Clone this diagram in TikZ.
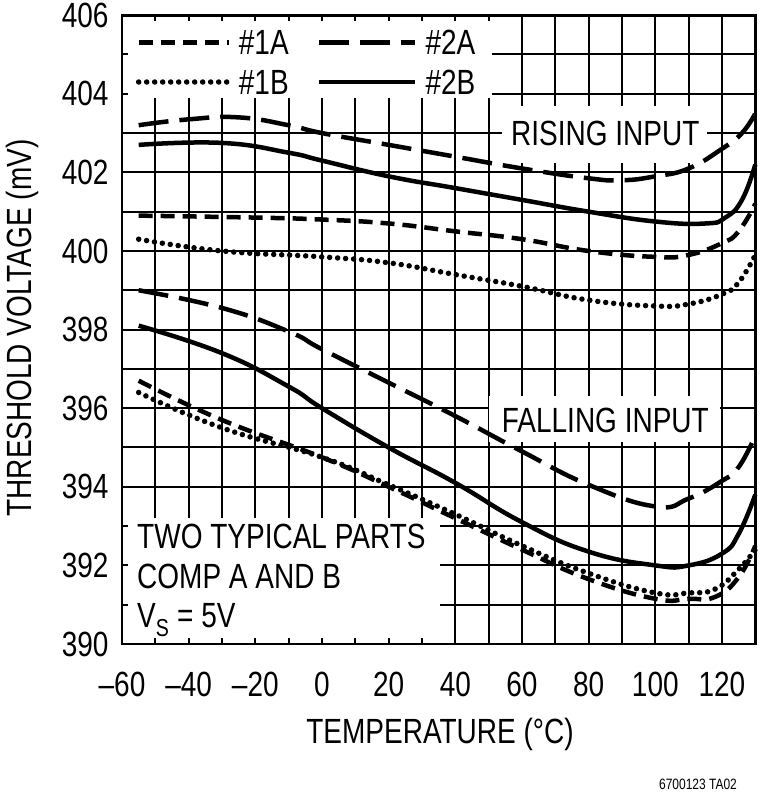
\documentclass[tikz,border=0pt]{standalone}
\usepackage{fontspec}
\setmainfont{Liberation Sans}[FakeStretch=0.8]
\begin{document}
\begin{tikzpicture}[x=1pt,y=1pt,
  crv/.style={line width=4.5pt,smooth,tension=0.8},
  sdash/.style={crv,dash pattern=on 14pt off 8pt},
  ldash/.style={crv,dash pattern=on 30pt off 11pt},
  dots/.style={crv,line width=5.5pt,line cap=round,dash pattern=on 0pt off 8pt},
  solidc/.style={crv},
  gl/.style={line width=2pt},
  lbl/.style={font=\fontsize{35}{37}\selectfont,inner sep=0pt}]
\useasboundingbox (0,0) rectangle (760,798);
\begin{scope}[shift={(322,154)},xscale=3.333,yscale=39.3]
 % grid
 \foreach \t in {-50,-40,...,120} \draw[gl] (\t,0) -- (\t,16);
 \foreach \v in {1,...,15} \draw[gl] (-60,\v) -- (130,\v);
 % white boxes
 \fill[white] (-60,13.9) rectangle (51,16);
 \fill[white] (-60,0) rectangle (35.5,3.2);
 \fill[white] (54,12.25) rectangle (115.5,13.7);
 \fill[white] (50,5.15) rectangle (119.5,6.3);
 % ticks
 \foreach \t in {-50,-40,...,120} {\draw[gl] (\t,0) -- ++(0,0.16); \draw[gl] (\t,16) -- ++(0,-0.16);}
 \foreach \v in {1,...,15} {\draw[gl] (-60,\v) -- ++(1.8,0); \draw[gl] (130,\v) -- ++(-1.8,0);}
 % rising
 \draw[ldash] plot coordinates {(-55,13.2)(-40,13.35)(-25,13.4)(-10,13.2)(0,13.0)(20,12.7)(40,12.4)(60,12.1)(80,11.85)(90,11.8)(100,11.9)(110,12.1)(120,12.6)(126,13.0)(130,13.5)};
 \draw[solidc] plot coordinates {(-55,12.7)(-30,12.75)(-10,12.5)(0,12.3)(20,11.9)(40,11.6)(60,11.3)(80,11.0)(100,10.75)(115,10.7)(121,10.85)(126,11.3)(130,12.2)};
 \draw[sdash] plot coordinates {(-55,10.9)(-20,10.85)(0,10.8)(20,10.7)(40,10.5)(60,10.3)(80,10.0)(100,9.85)(110,9.9)(120,10.2)(125,10.5)(130,11.2)};
 \draw[dots] plot coordinates {(-55,10.3)(-30,10.0)(0,9.85)(20,9.7)(40,9.4)(60,9.1)(80,8.75)(100,8.6)(110,8.65)(120,8.9)(125,9.2)(130,9.9)};
 % falling
 \draw[ldash] plot coordinates {(-55,9.0)(-30,8.55)(-10,7.95)(0,7.5)(20,6.65)(40,5.8)(60,4.9)(80,4.05)(100,3.5)(110,3.7)(120,4.15)(125,4.5)(130,5.3)};
 \draw[solidc] plot coordinates {(-55,8.1)(-30,7.4)(-10,6.55)(0,6.0)(20,5.0)(40,4.1)(60,3.1)(80,2.35)(100,2.0)(110,2.0)(120,2.3)(125,2.8)(130,3.8)};
 \draw[sdash] plot coordinates {(-55,6.7)(-30,5.7)(0,4.75)(20,4.0)(40,3.2)(60,2.4)(80,1.65)(100,1.15)(110,1.15)(118,1.2)(125,1.7)(130,2.5)};
 \draw[dots] plot coordinates {(-55,6.4)(-30,5.5)(0,4.75)(20,4.05)(40,3.3)(60,2.5)(80,1.8)(100,1.3)(110,1.3)(118,1.4)(125,1.9)(130,2.4)};
 % border
 \draw[line width=2.8pt] (-60,0) rectangle (130,16);
 % tick labels
 \foreach \v/\l in {0/390,2/392,4/394,6/396,8/398,10/400,12/402,14/404,16/406}
   \node[lbl,anchor=east] (y\l) at (-64,\v) {\l};
 \foreach \t/\l in {-60/{–60},-40/{–40},-20/{–20},0/0,20/20,40/40,60/60,80/80,100/100,120/120}
   \node[lbl,anchor=north] at (\t,-0.7) {\l};
 % legend
 \draw[sdash] (-55,15.3) -- (-28,15.3);
 \node[lbl,anchor=west] (l1a) at (-25,15.3) {\#1A};
 \draw[ldash] (-1,15.3) -- (28,15.3);
 \node[lbl,anchor=west] (l2a) at (31,15.3) {\#2A};
 \draw[dots] (-55,14.3) -- (-28,14.3);
 \node[lbl,anchor=west] (l1b) at (-25,14.3) {\#1B};
 \draw[solidc] (-1,14.3) -- (28,14.3);
 \node[lbl,anchor=west] (l2b) at (31,14.3) {\#2B};
 \node[lbl] (ris) at (85,13.0) {RISING INPUT};
 \node[lbl] (fal) at (85,5.7) {FALLING INPUT};
 \node[lbl,anchor=north west,align=left,font=\fontsize{35}{39.5}\selectfont] (note) at (-55.5,3.05)
   {TWO TYPICAL PARTS\\COMP A AND B\\V\textsubscript{S} = 5V};
\end{scope}
\node[lbl,rotate=90] (ytitle) at (22,470) {THRESHOLD VOLTAGE (mV)};
\node[lbl] (xtitle) at (440,64) {TEMPERATURE (°C)};
\node[inner sep=0pt,font=\fontsize{15}{16}\selectfont] (code) at (698,14) {6700123 TA02};
\end{tikzpicture}
\end{document}
